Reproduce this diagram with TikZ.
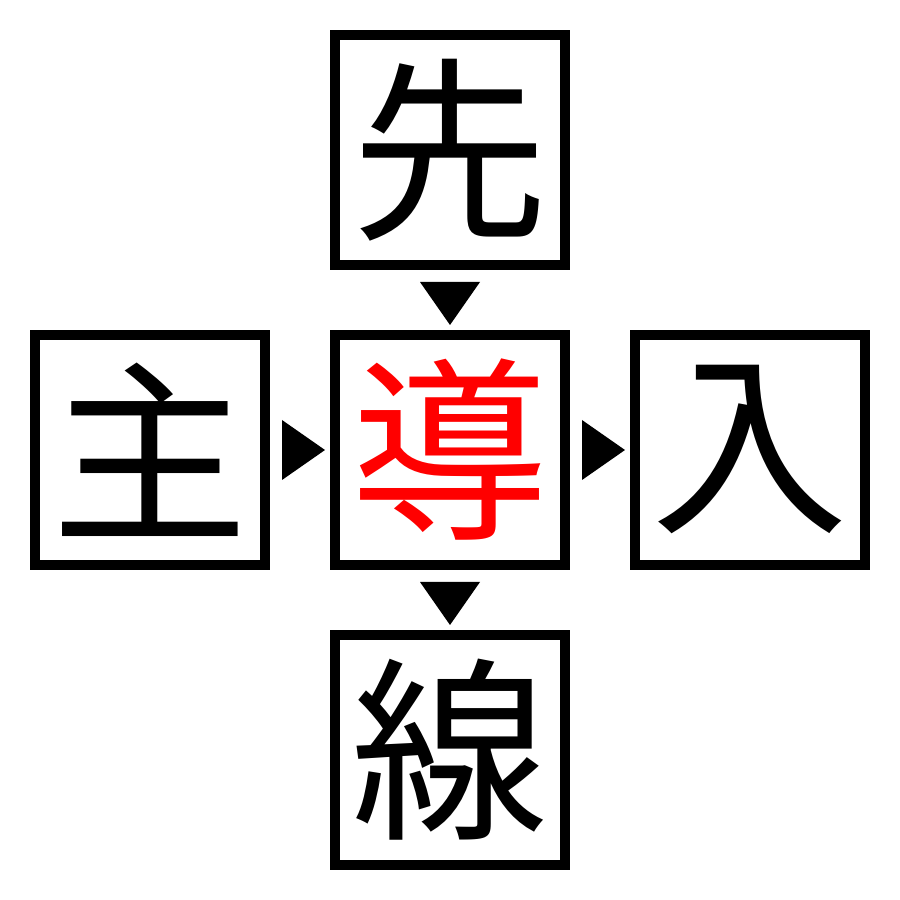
\documentclass[tikz,border=0pt]{standalone}
\usepackage{fontspec}
\newfontfamily\cjk{Noto Sans CJK JP}
\usetikzlibrary{positioning}

\begin{document}
\begin{tikzpicture}[kanjibox/.style={draw,line width=1mm,minimum size=2.3cm,inner sep=0pt,font=\cjk\fontsize{56}{56}\selectfont}]
    \useasboundingbox (0,0) rectangle (9,9);

    \node[kanjibox] (ctr) at (4.5,4.5) {\textcolor{red}{導}};
    \node[kanjibox] (top) at (4.5,7.5) {先};
    \node[kanjibox] (left) at (1.5,4.5) {主};
    \node[kanjibox] (right) at (7.5,4.5) {入};
    \node[kanjibox] (bot) at (4.5,1.5) {線};

    % arrows pointing down
    \foreach \y in {6.18,3.18}
    \fill (4.2,\y) -- (4.8,\y) -- (4.5,\y-0.43) -- cycle;

    % arrows pointing right
    \foreach \x in {2.82,5.82}
    \fill (\x,4.8) -- (\x,4.2) -- (\x+0.43,4.5) -- cycle;
  \end{tikzpicture}
\end{document}
